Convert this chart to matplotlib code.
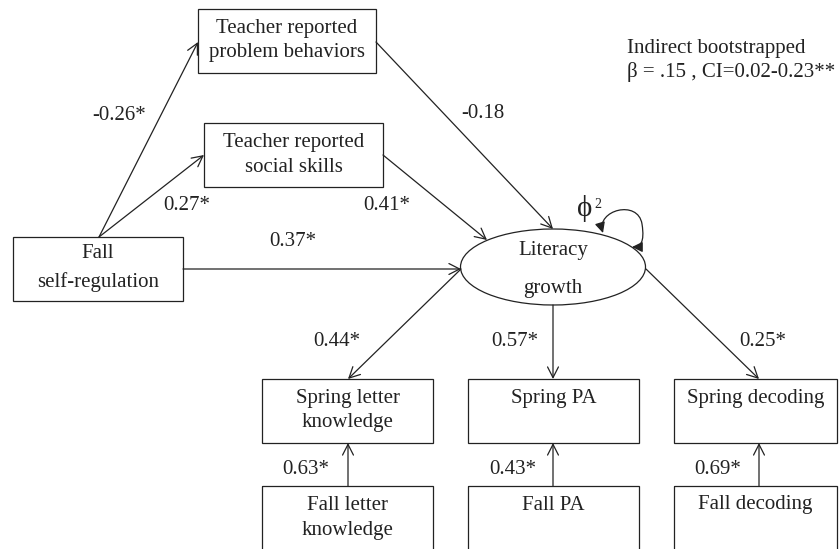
import matplotlib
matplotlib.use("Agg")
import matplotlib.pyplot as plt
from matplotlib.patches import Rectangle, Ellipse, FancyArrowPatch
from matplotlib.path import Path

plt.rcParams['font.family'] = ['Liberation Serif', 'DejaVu Serif']

# box labels
problem_label = ["Teacher reported", "problem behaviors"]
social_label = ["Teacher reported", "social skills"]
selfreg_label = ["Fall", "self-regulation"]
latent_label = ["Literacy", "growth"]
spring_labels = [["Spring letter", "knowledge"], ["Spring PA"], ["Spring decoding"]]
fall_labels = [["Fall letter", "knowledge"], ["Fall PA"], ["Fall decoding"]]

# path coefficients
coef_problem = "-0.26*"
coef_social = "0.27*"
coef_problem_lit = "-0.18"
coef_social_lit = "0.41*"
coef_selfreg_lit = "0.37*"
loadings = ["0.44*", "0.57*", "0.25*"]
autoreg = ["0.63*", "0.43*", "0.69*"]
note = ["Indirect bootstrapped", "\u03b2 = .15 , CI=0.02-0.23**"]

col = "#222222"
fs = 15
lw = 0.9

fig = plt.figure(figsize=(8.39, 5.49), dpi=100)
ax = fig.add_axes([0, 0, 1, 1])
ax.set_xlim(0, 839)
ax.set_ylim(549, 0)
ax.axis("off")


def box(x0, y0, x1, y1, lines, ys):
    ax.add_patch(Rectangle((x0, y0), x1 - x0, y1 - y0, fill=False,
                           edgecolor=col, lw=lw))
    cx = (x0 + x1) / 2
    for t, y in zip(lines, ys):
        ax.text(cx, y, t, ha="center", va="center", fontsize=fs, color=col)


def arrow(p, q):
    ax.add_patch(FancyArrowPatch(p, q, arrowstyle="->,head_length=0.55,head_width=0.28",
                                 mutation_scale=14, color=col, lw=lw,
                                 shrinkA=0, shrinkB=0))


box(198, 9, 376, 73, problem_label, [28, 53])
box(204, 123, 383, 187, social_label, [142, 167])
box(13, 237, 183, 301, selfreg_label, [253, 282])

ax.add_patch(Ellipse((553, 267), 185, 76, fill=False, edgecolor=col, lw=lw))
ax.text(553, 251, latent_label[0], ha="center", va="center", fontsize=fs, color=col)
ax.text(553, 288, latent_label[1], ha="center", va="center", fontsize=fs, color=col)

cols_x = [(262, 433), (468, 639), (674, 837)]
for (x0, x1), lab in zip(cols_x, spring_labels):
    box(x0, 379, x1, 443, lab, [398, 423][:len(lab)])
for (x0, x1), lab in zip(cols_x, fall_labels):
    box(x0, 486, x1, 580, lab, [505, 530][:len(lab)])

# structural paths
arrow((99, 237), (198, 42))
arrow((99, 237), (204, 155))
arrow((376, 42), (553, 229))
arrow((383, 155), (487, 240))
arrow((183, 269), (461, 269))

# loadings
arrow((461, 269), (348, 379))
arrow((553, 305), (553, 379))
arrow((646, 269), (759, 379))

# autoregressive paths
for x in [348, 553, 759]:
    arrow((x, 486), (x, 443))

# residual variance loop
verts = [(603, 233), (596, 210), (638, 199), (642, 224),
         (645, 243), (640, 247), (632, 247)]
codes = [Path.MOVETO] + [Path.CURVE4] * 6
ax.add_patch(FancyArrowPatch(path=Path(verts, codes),
                             arrowstyle="<|-|>,head_length=0.45,head_width=0.22",
                             mutation_scale=14, color=col, lw=lw))
ax.text(585, 208, "\u03d5", ha="center", va="center", fontsize=21, color=col)
ax.text(598, 204, "2", ha="center", va="center", fontsize=10, color=col)

# coefficient labels
ax.text(119, 115, coef_problem, ha="center", va="center", fontsize=fs, color=col)
ax.text(187, 205, coef_social, ha="center", va="center", fontsize=fs, color=col)
ax.text(483, 113, coef_problem_lit, ha="center", va="center", fontsize=fs, color=col)
ax.text(387, 205, coef_social_lit, ha="center", va="center", fontsize=fs, color=col)
ax.text(293, 241, coef_selfreg_lit, ha="center", va="center", fontsize=fs, color=col)
for x, c in zip([337, 515, 763], loadings):
    ax.text(x, 342, c, ha="center", va="center", fontsize=fs, color=col)
for x, c in zip([306, 513, 718], autoreg):
    ax.text(x, 469, c, ha="center", va="center", fontsize=fs, color=col)

ax.text(627, 49, note[0], ha="left", va="center", fontsize=fs, color=col)
ax.text(627, 72, note[1], ha="left", va="center", fontsize=fs, color=col)

fig.savefig("out.png", dpi=100)
